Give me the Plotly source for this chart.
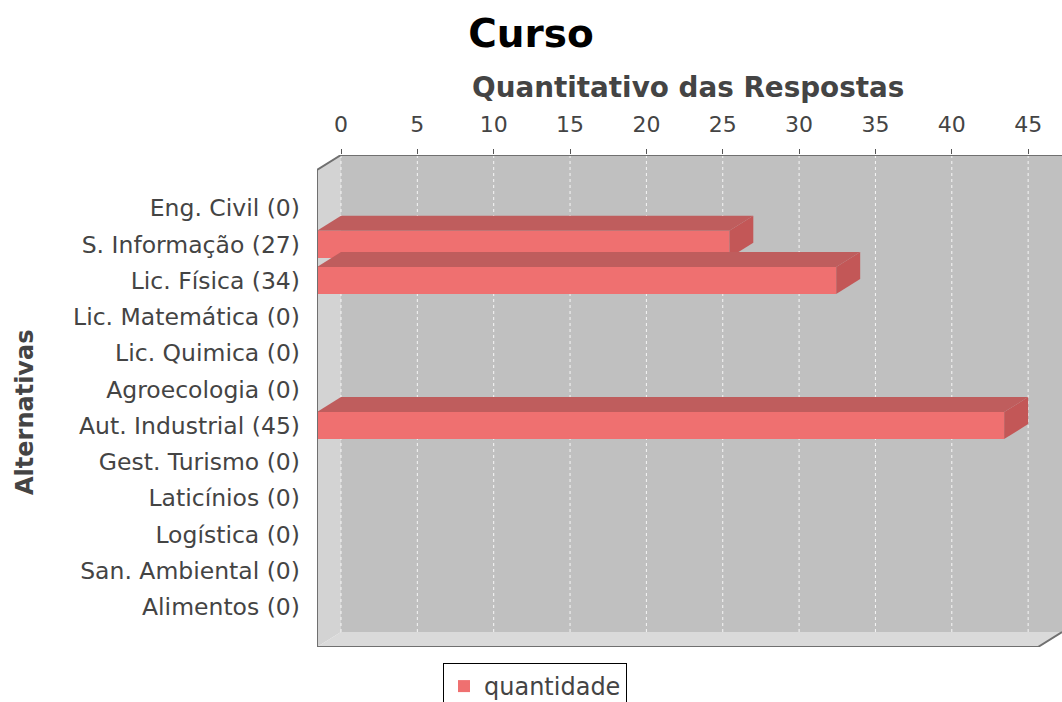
import plotly.graph_objects as go

# ---------------- data ----------------
categories = [
    "Eng. Civil (0)", "S. Informação (27)", "Lic. Física (34)",
    "Lic. Matemática (0)", "Lic. Quimica (0)", "Agroecologia (0)",
    "Aut. Industrial (45)", "Gest. Turismo (0)", "Laticínios (0)",
    "Logística (0)", "San. Ambiental (0)", "Alimentos (0)",
]
values = [0, 27, 34, 0, 0, 0, 45, 0, 0, 0, 0, 0]
tick_values = [0, 5, 10, 15, 20, 25, 30, 35, 40, 45]
series_name = "quantidade"
chart_title = "Curso"
x_title = "Quantitativo das Respostas"
y_title = "Alternativas"

# ---------------- geometry (3D look) ----------------
W, H = 1062, 702
L, R, T, B = 317, 0, 155, 55
px_per_unit = 15.27
row_px = 36.27
first_row_px = 208.0
dx_px, dy_px = 24.0, 15.0

XMAX = (W - L - R) / px_per_unit
DX = dx_px / px_per_unit
YTOP = (T - first_row_px) / row_px
YBOT = (H - B - first_row_px) / row_px
DY = dy_px / row_px
HALF = 13.5 / row_px

idx = list(range(len(categories)))

FONT = "DejaVu Sans"
TXT = "#444444"
FRONT = "#ef7070"
TOP = "#bf5d5d"
SIDE = "#c35757"

fig = go.Figure()

# front faces (the actual bar trace)
fig.add_trace(go.Bar(
    x=values, y=idx, orientation="h", width=2 * HALF,
    marker=dict(color=FRONT, line=dict(width=0)),
    name=series_name, showlegend=True, hoverinfo="x+y",
))

# top and right faces of each bar
for i, v in zip(idx, values):
    if v <= 0:
        continue
    yt = i - HALF
    yb = i + HALF
    fig.add_trace(go.Scatter(
        x=[0, DX, v + DX, v, 0], y=[yt, yt - DY, yt - DY, yt, yt],
        fill="toself", fillcolor=TOP, mode="lines", line=dict(width=0),
        showlegend=False, hoverinfo="skip",
    ))
    fig.add_trace(go.Scatter(
        x=[v, v + DX, v + DX, v, v], y=[yt, yt - DY, yb - DY, yb, yt],
        fill="toself", fillcolor=SIDE, mode="lines", line=dict(width=0),
        showlegend=False, hoverinfo="skip",
    ))

shapes = []
# back wall
shapes.append(dict(type="rect", xref="x", yref="y", x0=DX, x1=XMAX, y0=YTOP, y1=YBOT - DY,
                   fillcolor="#c0c0c0", line=dict(width=0), layer="below"))
# left wall
shapes.append(dict(type="path", xref="x", yref="y",
                   path=f"M0,{YTOP + DY} L{DX},{YTOP} L{DX},{YBOT - DY} L0,{YBOT} Z",
                   fillcolor="#d3d3d3", line=dict(width=0), layer="below"))
# floor
shapes.append(dict(type="path", xref="x", yref="y",
                   path=f"M0,{YBOT} L{DX},{YBOT - DY} L{XMAX},{YBOT - DY} L{XMAX - DX},{YBOT} Z",
                   fillcolor="#dadada", line=dict(width=0), layer="below"))
# gridlines on back wall
for t in tick_values:
    shapes.append(dict(type="line", xref="x", yref="y", x0=t + DX, x1=t + DX,
                       y0=YTOP, y1=YBOT - DY,
                       line=dict(color="rgba(255,255,255,0.85)", width=1, dash="3px,3px"),
                       layer="below"))
# outline
shapes.append(dict(type="path", xref="x", yref="y",
                   path=f"M0,{YBOT} L0,{YTOP + DY} L{DX},{YTOP} L{XMAX},{YTOP}",
                   line=dict(color="#707070", width=2), layer="above"))
shapes.append(dict(type="path", xref="x", yref="y",
                   path=f"M0,{YBOT} L{XMAX - DX},{YBOT} L{XMAX},{YBOT - DY}",
                   line=dict(color="#707070", width=2), layer="above"))

plot_w = W - L - R
plot_h = H - T - B

fig.update_layout(
    width=W, height=H,
    margin=dict(l=L, r=R, t=T, b=B, pad=0, autoexpand=False),
    paper_bgcolor="white", plot_bgcolor="white",
    font=dict(family=FONT, color=TXT),
    title=dict(text=chart_title, x=0.5, xref="container", xanchor="center",
               y=1 - 33 / H, yref="container", yanchor="middle",
               font=dict(family=FONT, size=39, color="black", weight="bold")),
    bargap=0,
    shapes=shapes,
    xaxis=dict(range=[0, XMAX], side="top", automargin=False,
               tickvals=[t + DX for t in tick_values],
               ticktext=[str(t) for t in tick_values],
               ticks="outside", ticklen=5, tickcolor="#555555", tickwidth=1,
               ticklabelstandoff=8,
               tickfont=dict(family=FONT, size=22, color=TXT),
               showgrid=False, zeroline=False, showline=False, fixedrange=True),
    yaxis=dict(range=[YBOT, YTOP], tickvals=idx, ticktext=categories, automargin=False,
               ticks="", ticklabelstandoff=16,
               tickfont=dict(family=FONT, size=23.5, color=TXT),
               showgrid=False, zeroline=False, showline=False, fixedrange=True),
    legend=dict(orientation="h", x=(535 - L) / plot_w, xanchor="center",
                y=-(16 / plot_h), yanchor="top",
                bordercolor="black", borderwidth=1, bgcolor="white",
                font=dict(family=FONT, size=24, color=TXT)),
    annotations=[
        dict(text=x_title, xref="paper", yref="paper",
             x=(688 - L) / plot_w, y=1 + (T - 87) / plot_h,
             xanchor="center", yanchor="middle", showarrow=False,
             font=dict(family=FONT, size=27.8, color=TXT, weight="bold")),
        dict(text=y_title, xref="paper", yref="paper", textangle=-90,
             x=(25 - L) / plot_w, y=(H - B - 412) / plot_h,
             xanchor="center", yanchor="middle", showarrow=False,
             font=dict(family=FONT, size=24, color=TXT, weight="bold")),
    ],
)

fig.write_html("out.html", config={"displayModeBar": False},
               post_script="document.body.style.margin='0px';")
